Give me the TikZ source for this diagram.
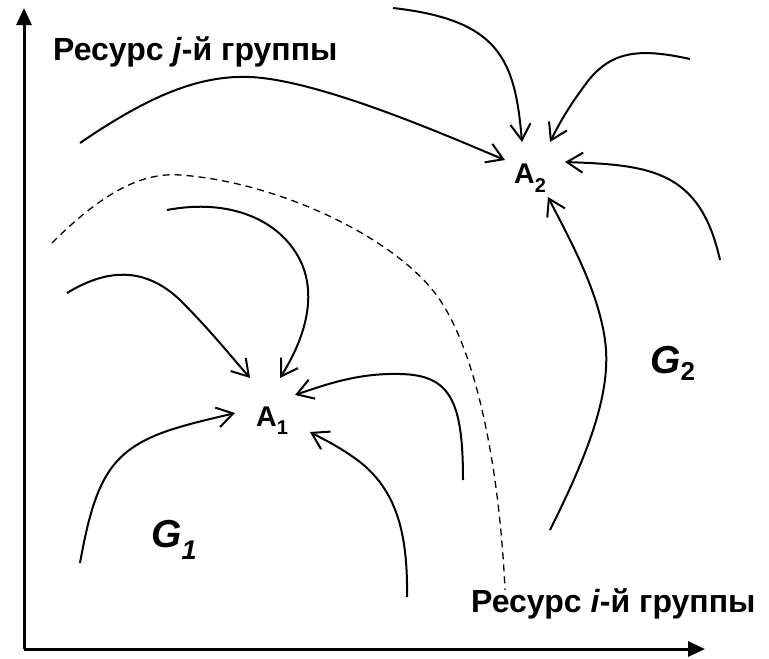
\documentclass[tikz,border=0pt]{standalone}
\usepackage{fontspec}
\setmainfont{Liberation Sans}
\usetikzlibrary{arrows.meta}
\begin{document}
\begin{tikzpicture}[x=1pt,y=-1pt,
  axis/.style={line width=3pt,-{Triangle[length=17pt,width=15pt]}},
  flow/.style={line width=2pt,-{Straight Barb[length=16pt,width=20pt]}},
  bound/.style={line width=1.3pt,dash pattern=on 7pt off 5pt},
  lbl/.style={inner sep=0pt,anchor=base west,font=\bfseries}]
\useasboundingbox (0,0) rectangle (769,659);
% axes
\coordinate (O) at (24,649);
\coordinate (Ytop) at (24,8);
\coordinate (Xend) at (705,649);
\draw[axis] (O) -- (Ytop);
\draw[axis] (O) -- (Xend);
% labels
\node[lbl] (ylab) at (53,60) {\fontsize{32}{36}\selectfont Ресурс \textit{j}-й группы};
\node[lbl] (xlab) at (471,612) {\fontsize{32}{36}\selectfont Ресурс \textit{i}-й группы};
\node[lbl] (A1) at (256,426) {\fontsize{28.5}{30}\selectfont A\raisebox{-8pt}{\fontsize{20}{20}\selectfont 1}};
\node[lbl] (A2) at (514,183) {\fontsize{28.5}{30}\selectfont A\raisebox{-9pt}{\fontsize{20}{20}\selectfont 2}};
\node[lbl] (G1) at (151,547) {\fontsize{39}{40}\selectfont\itshape G\raisebox{-12pt}{\fontsize{27}{28}\selectfont 1}};
\node[lbl] (G2) at (650,373) {\fontsize{39}{40}\selectfont\itshape G\raisebox{-7pt}{\fontsize{26}{28}\selectfont\upshape 2}};
% end points around A2
\coordinate (b1s) at (80,143);   \coordinate (b1t) at (505,160);
\coordinate (b2s) at (393,8);    \coordinate (b2t) at (522,142);
\coordinate (b3s) at (690,59);   \coordinate (b3t) at (550,142);
\coordinate (b4s) at (720,260);  \coordinate (b4t) at (565,162);
\coordinate (b5s) at (550,530);  \coordinate (b5t) at (548,197);
% end points around A1
\coordinate (a1s) at (167,210);  \coordinate (a1t) at (280,378);
\coordinate (a2s) at (67,293);   \coordinate (a2t) at (250,378);
\coordinate (a3s) at (80,563);   \coordinate (a3t) at (235,413);
\coordinate (a4s) at (407,597);  \coordinate (a4t) at (310,432);
\coordinate (a5s) at (463,480);  \coordinate (a5t) at (295,395);
% boundary
\coordinate (ds) at (52,243);
\coordinate (de) at (505,590);
\draw[bound] (ds) .. controls (100,195) and (140,172) .. (180,175)
  .. controls (280,182) and (400,240) .. (440,300)
  .. controls (480,360) and (500,480) .. (de);
% flows to A2
\draw[flow] (b1s) .. controls (150,95) and (200,75) .. (250,77)
  .. controls (320,80) and (450,137) .. (b1t);
\draw[flow] (b2s) .. controls (500,20) and (515,60) .. (b2t);
\draw[flow] (b3s) .. controls (640,48) and (610,50) .. (585,85)
  .. controls (570,105) and (560,122) .. (b3t);
\draw[flow] (b4s) .. controls (700,170) and (650,165) .. (b4t);
\draw[flow] (b5s) .. controls (590,450) and (612,390) .. (605,340)
  .. controls (598,290) and (570,240) .. (b5t);
% flows to A1
\draw[flow] (a1s) .. controls (230,198) and (280,220) .. (300,260)
  .. controls (315,290) and (310,330) .. (a1t);
\draw[flow] (a2s) .. controls (100,273) and (140,262) .. (180,300)
  .. controls (210,330) and (230,355) .. (a2t);
\draw[flow] (a3s) .. controls (95,480) and (110,450) .. (170,430)
  .. controls (195,422) and (215,418) .. (a3t);
\draw[flow] (a4s) .. controls (408,530) and (395,490) .. (360,462)
  .. controls (340,447) and (325,440) .. (a4t);
\draw[flow] (a5s) .. controls (463,400) and (450,375) .. (400,374)
  .. controls (360,373) and (330,383) .. (a5t);
\end{tikzpicture}
\end{document}
